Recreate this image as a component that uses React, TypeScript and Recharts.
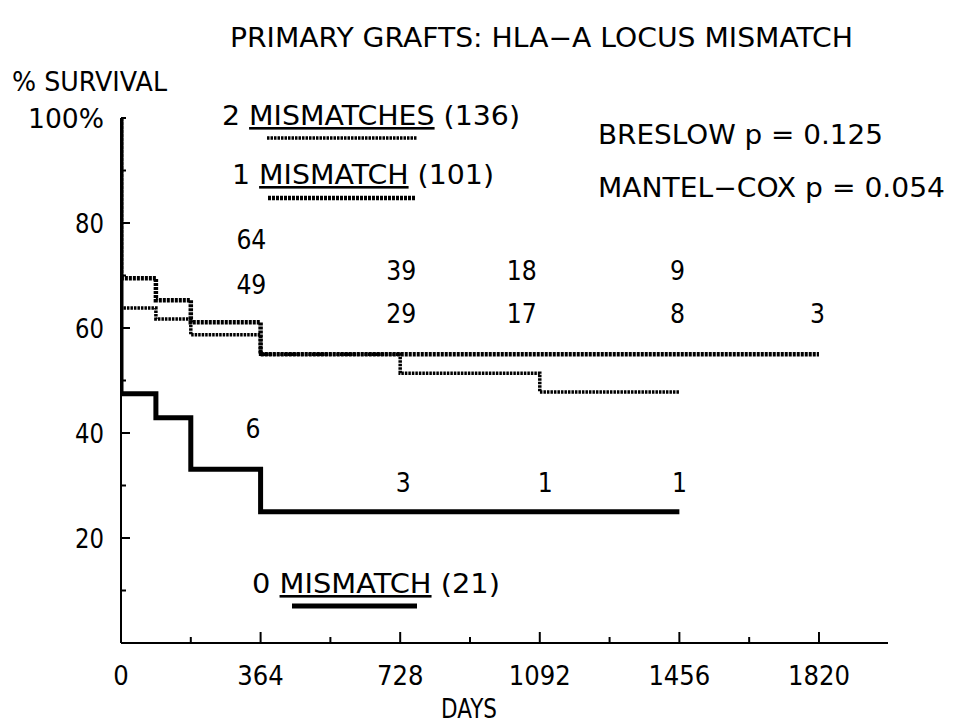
import React from "react";
import { ComposedChart, Line, Scatter, XAxis, YAxis } from "recharts";

// survival steps (days, % surviving)
const days0 = [0, 0, 91, 182, 364, 1456];
const surv0 = [100, 47.5, 42.9, 33.1, 25, 25];

const days1 = [0, 0, 91, 182, 364, 1820];
const surv1 = [100, 69.5, 65.3, 61.1, 55, 55];

const days2 = [0, 0, 91, 182, 364, 728, 1092, 1456];
const surv2 = [100, 63.8, 61.7, 58.7, 55, 51.4, 47.8, 47.8];

// numbers at risk
const riskUpper = ["64", "39", "18", "9"];
const riskLower = ["49", "29", "17", "8", "3"];
const riskZero = ["6", "3", "1", "1"];

// where the at-risk numbers sit (days, % level)
const riskUpperX = [340, 731, 1045, 1451];
const riskUpperY = [77, 71, 71, 71];
const riskLowerX = [340, 731, 1045, 1451, 1816];
const riskLowerY = [68.4, 62.9, 62.9, 62.9, 62.9];
const riskZeroX = [344, 736, 1106, 1456];
const riskZeroY = [40.9, 30.7, 30.7, 30.7];

const xTicks = [0, 182, 364, 546, 728, 910, 1092, 1274, 1456, 1638, 1820];
const xMajor = [0, 364, 728, 1092, 1456, 1820];
const yTicks = [10, 20, 30, 40, 50, 60, 70, 80, 90, 100];
const yMajor = [20, 40, 60, 80];

const W = 964;
const H = 723;
const FONT = "DejaVu Sans";

const pts = (xs: number[], ys: number[]) => xs.map((x, i) => ({ x, y: ys[i] }));
const labels = (xs: number[], ys: number[], txt: string[]) =>
  txt.map((t, i) => ({ x: xs[i], y: ys[i], label: t }));

const riskData = [
  ...labels(riskUpperX, riskUpperY, riskUpper),
  ...labels(riskLowerX, riskLowerY, riskLower),
  ...labels(riskZeroX, riskZeroY, riskZero),
];

function XTick(props: any) {
  const { x, y, payload } = props;
  const v = payload.value;
  const major = xMajor.includes(v);
  const s = String(v);
  return (
    <g>
      {v !== 0 && <line x1={x} x2={x} y1={y} y2={y - (major ? 11 : 6)} stroke="#000" strokeWidth={2} />}
      {major && (
        <text x={x} y={y + 42} textAnchor="middle" fontFamily={FONT} fontSize={26}
          textLength={s.length * 15.5} lengthAdjust="spacingAndGlyphs" fill="#000">
          {s}
        </text>
      )}
    </g>
  );
}

function YTick(props: any) {
  const { x, y, payload } = props;
  const v = payload.value;
  const major = yMajor.includes(v);
  const s = v === 100 ? "100%" : String(v);
  return (
    <g>
      <line x1={x} x2={x + (major ? 9 : 5)} y1={y} y2={y} stroke="#000" strokeWidth={2} />
      {(major || v === 100) && (
        <text x={x - 17} y={y + 10} textAnchor="end" fontFamily={FONT} fontSize={26}
          textLength={v === 100 ? 76 : 29} lengthAdjust="spacingAndGlyphs" fill="#000">
          {s}
        </text>
      )}
    </g>
  );
}

function RiskLabel(props: any) {
  const { cx, cy, payload } = props;
  return (
    <text x={cx} y={cy + 10} textAnchor="middle" fontFamily={FONT} fontSize={26}
      textLength={payload.label.length * 15} lengthAdjust="spacingAndGlyphs" fill="#000">
      {payload.label}
    </text>
  );
}

export default function App() {
  const txt = { fontFamily: FONT, fontSize: 26, fill: "#000" } as const;
  return (
    <div style={{ position: "absolute", left: 0, top: 0, width: W, height: H, background: "#fff" }}>
      <ComposedChart width={W} height={H} margin={{ top: 118, right: 76, bottom: 50, left: 61 }}>
        <XAxis type="number" dataKey="x" domain={[0, 2000]} ticks={xTicks} interval={0}
          tick={<XTick />} tickLine={false} tickSize={0} tickMargin={0} allowDataOverflow
          axisLine={{ stroke: "#000", strokeWidth: 2 }} />
        <YAxis type="number" dataKey="y" domain={[0, 100]} ticks={yTicks} interval={0} width={60}
          tick={<YTick />} tickLine={false} tickSize={0} tickMargin={0} allowDataOverflow
          axisLine={{ stroke: "#000", strokeWidth: 2 }} />
        <Line data={pts(days2, surv2)} dataKey="y" type="stepAfter" stroke="#000" strokeWidth={3.5}
          strokeDasharray="2.5 1" dot={false} isAnimationActive={false} />
        <Line data={pts(days1, surv1)} dataKey="y" type="stepAfter" stroke="#000" strokeWidth={4.5}
          strokeDasharray="3 1" dot={false} isAnimationActive={false} />
        <Line data={pts(days0, surv0)} dataKey="y" type="stepAfter" stroke="#000" strokeWidth={5}
          dot={false} isAnimationActive={false} />
        <Scatter data={riskData} dataKey="y" shape={RiskLabel} isAnimationActive={false} />
      </ComposedChart>
      <svg width={W} height={H} style={{ position: "absolute", left: 0, top: 0, pointerEvents: "none" }}>
        <text x={230} y={47} textLength={623} lengthAdjust="spacingAndGlyphs" {...txt}>
          PRIMARY GRAFTS: HLA−A LOCUS MISMATCH
        </text>
        <text x={12} y={91} textLength={155} lengthAdjust="spacingAndGlyphs" {...txt}>
          % SURVIVAL
        </text>
        <text x={222} y={125} textLength={298} lengthAdjust="spacingAndGlyphs" {...txt}>
          2 <tspan textDecoration="underline">MISMATCHES</tspan> (136)
        </text>
        <line x1={267} x2={417} y1={138} y2={138} stroke="#000" strokeWidth={3.5} strokeDasharray="2.5 1" />
        <text x={232} y={184} textLength={262} lengthAdjust="spacingAndGlyphs" {...txt}>
          1 <tspan textDecoration="underline">MISMATCH</tspan> (101)
        </text>
        <line x1={268} x2={415} y1={198} y2={198} stroke="#000" strokeWidth={4.5} strokeDasharray="3 1" />
        <text x={598} y={144} textLength={285} lengthAdjust="spacingAndGlyphs" {...txt}>
          BRESLOW p = 0.125
        </text>
        <text x={598} y={197} textLength={347} lengthAdjust="spacingAndGlyphs" {...txt}>
          MANTEL−COX p = 0.054
        </text>
        <text x={252} y={593} textLength={248} lengthAdjust="spacingAndGlyphs" {...txt}>
          0 <tspan textDecoration="underline">MISMATCH</tspan> (21)
        </text>
        <line x1={292} x2={417} y1={606} y2={606} stroke="#000" strokeWidth={5} />
        <text x={469} y={718} textAnchor="middle" textLength={56} lengthAdjust="spacingAndGlyphs" {...txt}>
          DAYS
        </text>
      </svg>
    </div>
  );
}
